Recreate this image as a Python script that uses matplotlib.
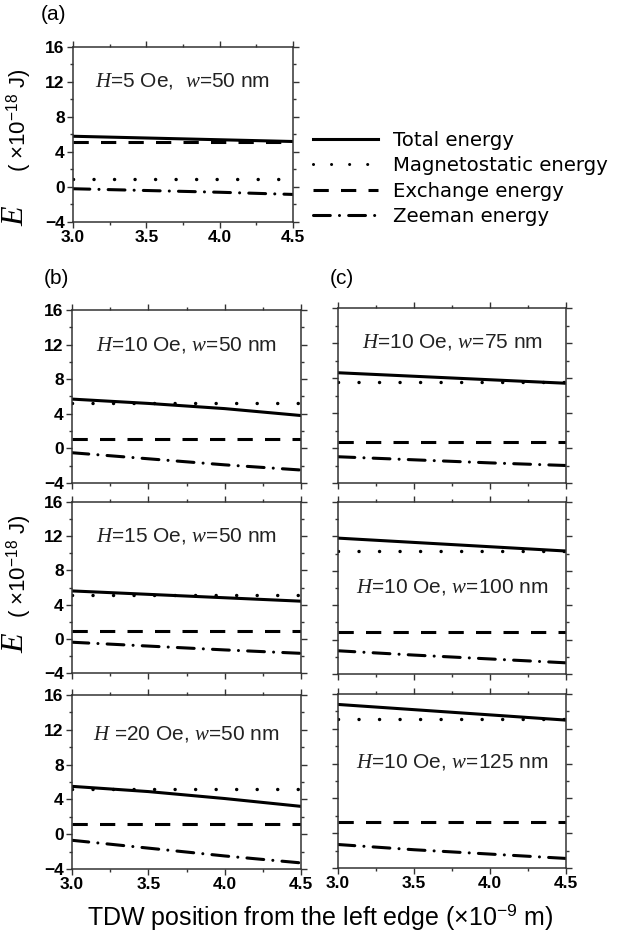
import matplotlib
matplotlib.use("Agg")
import matplotlib.pyplot as plt
from matplotlib.lines import Line2D
from matplotlib.ticker import MultipleLocator

plt.rcParams['font.family'] = ['Liberation Sans', 'DejaVu Sans']
plt.rcParams['mathtext.fontset'] = 'custom'
plt.rcParams['mathtext.rm'] = 'Liberation Sans'
plt.rcParams['mathtext.it'] = 'Liberation Serif:italic'

# TDW position (x10^-9 m)
x_pos = [3.0, 3.5, 4.0, 4.5]

# panels in order: (a), (b) top/mid/bottom, (c) top/mid/bottom
panel_names = ['a', 'b1', 'b2', 'b3', 'c1', 'c2', 'c3']
panel_texts = [r'$H$=5 Oe,  $w$=50 nm',
               r'$H$=10 Oe, $w$=50 nm',
               r'$H$=15 Oe, $w$=50 nm',
               r'$H$ =20 Oe, $w$=50 nm',
               r'$H$=10 Oe, $w$=75 nm',
               r'$H$=10 Oe, $w$=100 nm',
               r'$H$=10 Oe, $w$=125 nm']
text_y = [12.1, 12.0, 12.0, 11.5, 12.1, 6.1, 8.2]

# energies (x10^-18 J)
total_energy = [[5.8, 5.6, 5.4, 5.2],
                [5.7, 5.2, 4.6, 3.8],
                [5.6, 5.2, 4.8, 4.4],
                [5.5, 4.9, 4.1, 3.2],
                [8.6, 8.2, 7.8, 7.4],
                [11.8, 11.3, 10.8, 10.3],
                [14.8, 14.2, 13.6, 13.0]]
magneto_energy = [[0.9, 0.9, 0.9, 0.9],
                  [5.3, 5.3, 5.3, 5.3],
                  [5.1, 5.1, 5.1, 5.1],
                  [5.2, 5.2, 5.2, 5.2],
                  [7.5, 7.5, 7.5, 7.5],
                  [10.3, 10.3, 10.3, 10.3],
                  [13.1, 13.1, 13.1, 13.1]]
exchange_energy = [[5.1, 5.1, 5.1, 5.1],
                   [1.05, 1.05, 1.05, 1.05],
                   [0.9, 0.9, 0.9, 0.9],
                   [1.15, 1.15, 1.15, 1.15],
                   [0.7, 0.7, 0.7, 0.7],
                   [0.85, 0.85, 0.85, 0.85],
                   [1.3, 1.3, 1.3, 1.3]]
zeeman_energy = [[-0.2, -0.4, -0.6, -0.85],
                 [-0.5, -1.2, -1.9, -2.5],
                 [-0.4, -0.85, -1.3, -1.7],
                 [-0.7, -1.6, -2.5, -3.3],
                 [-1.0, -1.35, -1.7, -2.0],
                 [-1.3, -1.8, -2.25, -2.7],
                 [-1.3, -1.9, -2.4, -2.9]]

W, H = 623, 938
fig = plt.figure(figsize=(W / 100, H / 100), dpi=100)

def rect(l, t, r, b):
    return [l / W, 1 - b / H, (r - l) / W, (b - t) / H]

boxes = {'a': (73, 47, 293, 222),
         'b1': (72, 310, 301, 483), 'b2': (72, 502, 301, 673), 'b3': (72, 695, 301, 869),
         'c1': (338, 308, 566, 483), 'c2': (338, 502, 566, 674), 'c3': (338, 694, 566, 868)}

LW = 2.2
styles = dict(
    total=dict(linestyle='-'),
    mag=dict(linestyle=(0, (0.01, 5.9)), dash_capstyle='round'),
    exch=dict(linestyle=(0, (5, 4))),
    zee=dict(linestyle=(0, (5.5, 3, 0.01, 3)), dash_capstyle='round'),
)

for i, name in enumerate(panel_names):
    ax = fig.add_axes(rect(*boxes[name]))
    ax.plot(x_pos, total_energy[i], color='black', lw=LW, **styles['total'])
    ax.plot(x_pos, magneto_energy[i], color='black', lw=LW + 0.3, **styles['mag'])
    ax.plot(x_pos, exchange_energy[i], color='black', lw=LW, **styles['exch'])
    ax.plot(x_pos, zeeman_energy[i], color='black', lw=LW, **styles['zee'])
    ax.set_xlim(3.0, 4.5)
    ax.set_ylim(-4, 16)
    ax.xaxis.set_major_locator(MultipleLocator(0.5))
    ax.xaxis.set_minor_locator(MultipleLocator(0.25))
    ax.yaxis.set_major_locator(MultipleLocator(4))
    ax.yaxis.set_minor_locator(MultipleLocator(2))
    ax.tick_params(which='both', direction='out', top=True, right=True, width=1.0, color='#333333')
    ax.tick_params(which='major', length=4, pad=2, labelsize=12.5)
    ax.tick_params(which='minor', length=2)
    for s in ax.spines.values():
        s.set_linewidth(1.1)
        s.set_color('#333333')
    for lab in ax.get_xticklabels() + ax.get_yticklabels():
        lab.set_fontweight('bold')
    ax.xaxis.set_major_formatter(matplotlib.ticker.FormatStrFormatter('%.1f'))
    if name.startswith('c'):
        ax.set_yticklabels([])
    if name in ('b1', 'b2', 'c1', 'c2'):
        ax.set_xticklabels([])
    ax.text(3.75, text_y[i], panel_texts[i], ha='center', va='center', fontsize=15, color='#222222')

# panel labels
fig.text(53 / W, 1 - 14 / H, '(a)', ha='center', va='center', fontsize=15)
fig.text(56 / W, 1 - 279 / H, '(b)', ha='center', va='center', fontsize=15)
fig.text(342 / W, 1 - 278 / H, '(c)', ha='center', va='center', fontsize=15)

# y labels
for e_y, t_y in ((216, 120), (643, 566)):
    fig.text(16 / W, 1 - e_y / H, 'E', rotation=90, ha='center', va='center',
             fontsize=23, family='Liberation Serif', style='italic')
    fig.text(19 / W, 1 - t_y / H, r'( $\times$10$^{-18}$ J)', rotation=90, ha='center', va='center',
             fontsize=16)

# x label
fig.text(320 / W, 1 - 917 / H, r'TDW position from the left edge ($\times$10$^{-9}$ m)',
         ha='center', va='center', fontsize=18)

# legend
handles = [Line2D([], [], color='black', lw=LW, **styles['total']),
           Line2D([], [], color='black', lw=LW, **styles['mag']),
           Line2D([], [], color='black', lw=LW, **styles['exch']),
           Line2D([], [], color='black', lw=LW, **styles['zee'])]
labels = ['Total energy', 'Magnetostatic energy', 'Exchange energy', 'Zeeman energy']
fig.legend(handles, labels, loc='upper left', bbox_to_anchor=(313 / W, 1 - 131 / H),
           frameon=False, prop={'family': 'DejaVu Sans', 'size': 14.2},
           handlelength=3.3, handletextpad=0.75, labelspacing=0.32, borderpad=0,
           borderaxespad=0)

fig.savefig('out.png', dpi=100)
